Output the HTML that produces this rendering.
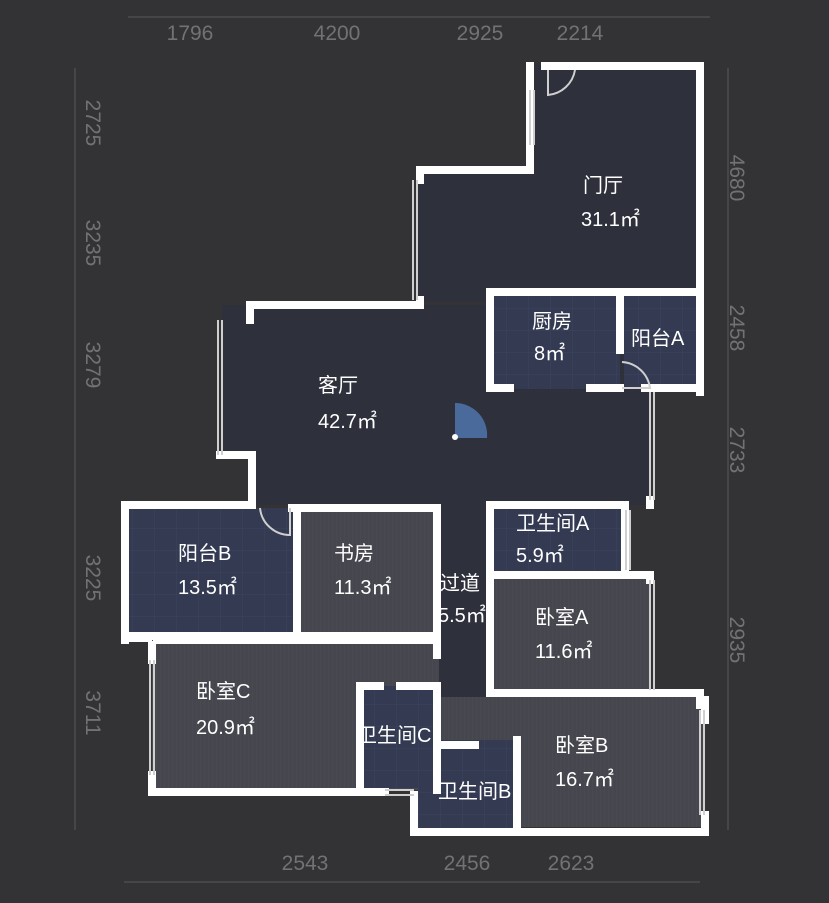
<!DOCTYPE html>
<html><head><meta charset="utf-8"><style>
html,body{margin:0;padding:0;background:#333335;}
svg{display:block}
.t{font-family:"Liberation Sans","Noto Sans CJK SC",sans-serif;fill:#fff;font-size:20px}
.d{font-family:"Liberation Sans",sans-serif;fill:#727274;font-size:21px;text-anchor:middle}
</style></head><body>
<svg width="829" height="903" viewBox="0 0 829 903" xmlns="http://www.w3.org/2000/svg">
<rect width="829" height="903" fill="#333335"/>
<defs>
<pattern id="tile" width="22" height="22" patternUnits="userSpaceOnUse"><rect width="22" height="22" fill="#333a52"/><path d="M0 0H22M0 0V22" stroke="#3d4560" stroke-width="1"/></pattern>
<pattern id="wood" width="4" height="40" patternUnits="userSpaceOnUse"><rect width="4" height="40" fill="#46464f"/><path d="M0 0V40" stroke="#4c4c55" stroke-width="1"/></pattern>
</defs>
<g stroke="#4c4c4e" stroke-width="1.5" fill="none">
<path d="M128 17H710"/><path d="M75 68V830"/><path d="M728 68V830"/><path d="M124 882H700"/>
</g>
<text class="d" x="190" y="40">1796</text><text class="d" x="337" y="40">4200</text><text class="d" x="480" y="40">2925</text><text class="d" x="580" y="40">2214</text>
<text class="d" x="305" y="870">2543</text><text class="d" x="467" y="870">2456</text><text class="d" x="571" y="870">2623</text>
<g class="d">
<text transform="translate(86,123) rotate(90)">2725</text>
<text transform="translate(86,243) rotate(90)">3235</text>
<text transform="translate(86,365) rotate(90)">3279</text>
<text transform="translate(86,578) rotate(90)">3225</text>
<text transform="translate(86,713) rotate(90)">3711</text>
<text transform="translate(730,178) rotate(90)">4680</text>
<text transform="translate(730,328) rotate(90)">2458</text>
<text transform="translate(730,450) rotate(90)">2733</text>
<text transform="translate(730,640) rotate(90)">2935</text>
</g>
<g fill="#2e303c">
<rect x="535" y="65" width="163" height="230"/>
<rect x="417" y="172" width="120" height="130"/>
<rect x="222" y="305" width="268" height="152"/>
<rect x="255" y="305" width="395" height="200"/>
<rect x="437" y="500" width="50" height="200"/>
</g>
<rect x="490" y="292" width="130" height="97" fill="url(#tile)"/>
<rect x="624" y="292" width="72" height="97" fill="url(#tile)"/>
<rect x="125" y="508" width="168" height="128" fill="url(#tile)"/>
<rect x="297" y="508" width="140" height="128" fill="url(#wood)"/>
<rect x="490" y="505" width="135" height="68" fill="url(#tile)"/>
<rect x="490" y="578" width="160" height="113" fill="url(#wood)"/>
<rect x="152" y="640" width="287" height="150" fill="url(#wood)"/>
<rect x="360" y="686" width="78" height="102" fill="url(#tile)"/>
<rect x="440" y="697" width="265" height="130" fill="url(#wood)"/>
<rect x="418" y="740" width="100" height="88" fill="url(#tile)"/>
<g stroke="#fff" stroke-width="8" fill="none" stroke-linecap="square">
<path d="M545 66H700V392"/><path d="M530 66V160"/>
<path d="M530 145V170H420V180"/><path d="M420 300V305H250V320"/><path d="M220 455H252V505H125V638H148"/>
<path d="M125 505V640"/><path d="M152 645V660"/><path d="M152 775V792H385"/>
<path d="M490 292H700M490 292V388H510"/><path d="M590 388H620"/><path d="M620 292V350"/><path d="M645 388H700"/>
<path d="M490 505H625V575H490V505"/><path d="M490 580V690M490 693H700V705"/>
<path d="M490 575H650"/><path d="M650 575V580"/>
<path d="M292 508H437V636M297 508V636"/><path d="M125 636H437"/><path d="M157 640H437"/>
<path d="M437 636V655"/>
<path d="M360 686V790M360 686H380M400 686H437V790"/>
<path d="M437 745H475M517 740V828M414 795V832H705V815"/>
<path d="M705 700V720"/>
<path d="M650 500V505"/>
</g>
<g stroke="#cfcfcf" stroke-width="2" fill="none">
<path d="M417 180V300M413 180V300"/><path d="M218 320V455M222 320V455"/>
<path d="M650 392V500M654 392V500"/><path d="M150 660V775M154 660V775"/>
<path d="M650 580V690M654 580V690"/><path d="M704 710V815M700 710V815"/>
<path d="M530 90V145M534 90V145"/><path d="M626 510V570M630 510V570"/>
<path d="M385 790H414M385 795H414"/>
<path d="M548 70V95A30 30 0 0 0 575 70"/><path d="M260 508A30 30 0 0 0 290 535V508"/>
<path d="M622 362A30 30 0 0 1 650 388H622"/>
</g>
<path d="M455 438V403A32 32 0 0 1 487 438Z" fill="#4b6a9c"/>
<circle cx="455" cy="437" r="3" fill="#fff"/>
<text class="t" x="583" y="192">门厅</text><text class="t" x="581" y="226">31.1㎡</text>
<text class="t" x="532" y="328">厨房</text><text class="t" x="534" y="360">8㎡</text>
<text class="t" x="631" y="345">阳台A</text>
<text class="t" x="318" y="392">客厅</text><text class="t" x="318" y="428">42.7㎡</text>
<text class="t" x="178" y="560">阳台B</text><text class="t" x="178" y="594">13.5㎡</text>
<text class="t" x="334" y="560">书房</text><text class="t" x="334" y="594">11.3㎡</text>
<text class="t" x="440" y="590">过道</text><text class="t" x="438" y="622">5.5㎡</text>
<text class="t" x="516" y="530">卫生间A</text><text class="t" x="516" y="562">5.9㎡</text>
<text class="t" x="535" y="624">卧室A</text><text class="t" x="535" y="658">11.6㎡</text>
<text class="t" x="196" y="698">卧室C</text><text class="t" x="196" y="734">20.9㎡</text>
<text class="t" x="357" y="742">卫生间C</text>
<text class="t" x="438" y="798">卫生间B</text>
<text class="t" x="555" y="752">卧室B</text><text class="t" x="555" y="786">16.7㎡</text>
</svg>
</body></html>
